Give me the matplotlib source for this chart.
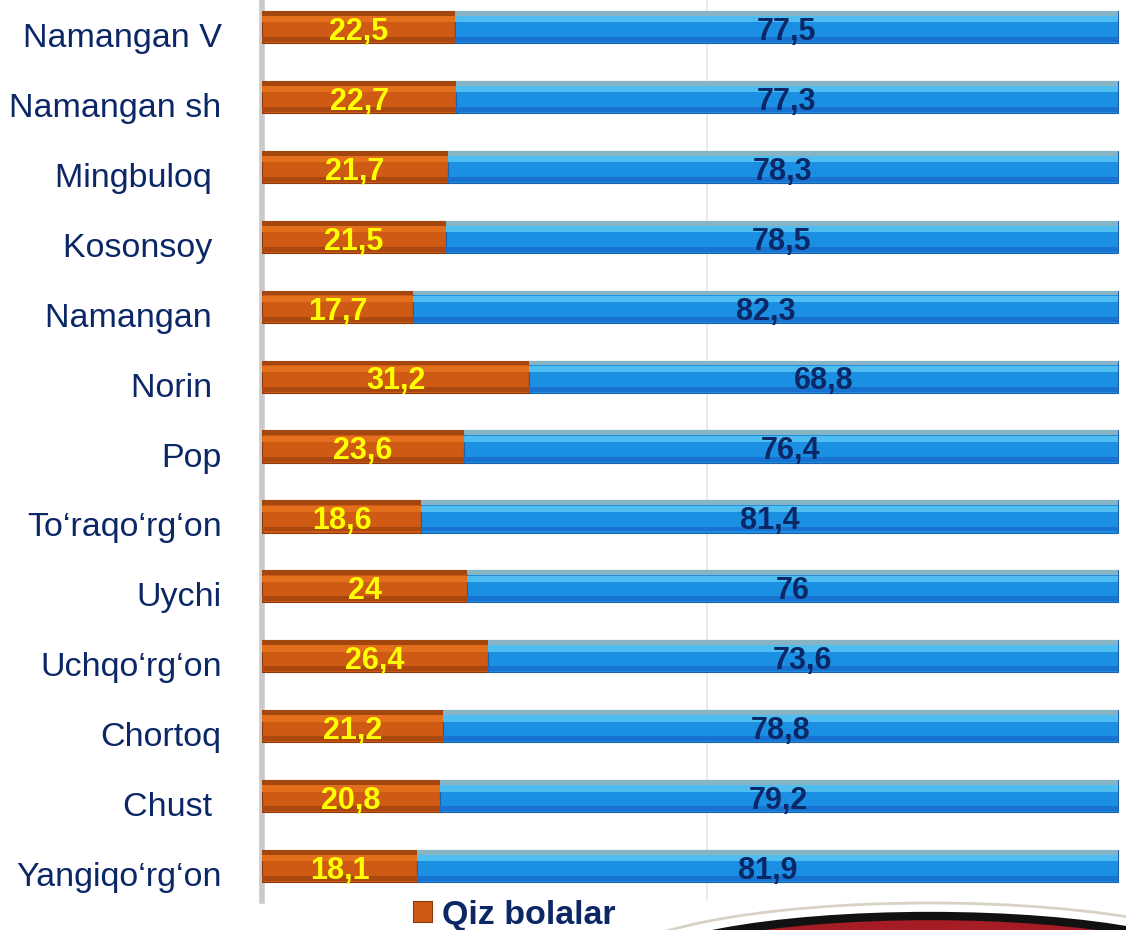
import matplotlib.pyplot as plt
import matplotlib.transforms as mtransforms
from matplotlib.patches import Ellipse

plt.rcParams['font.family'] = ['Liberation Sans', 'DejaVu Sans']

# districts, top to bottom
districts = ['Namangan V', 'Namangan sh', 'Mingbuloq ', 'Kosonsoy ', 'Namangan ',
             'Norin ', 'Pop', 'To\u2018raqo\u2018rg\u2018on', 'Uychi', 'Uchqo\u2018rg\u2018on',
             'Chortoq', 'Chust ', 'Yangiqo\u2018rg\u2018on']
girls = [22.5, 22.7, 21.7, 21.5, 17.7, 31.2, 23.6, 18.6, 24, 26.4, 21.2, 20.8, 18.1]
boys = [77.5, 77.3, 78.3, 78.5, 82.3, 68.8, 76.4, 81.4, 76, 73.6, 78.8, 79.2, 81.9]
girls_label = 'Qiz bolalar'


def fmt(v):
    s = ('%g' % v).replace('.', ',')
    return s


navy = '#0B2766'
orange = '#CE5A14'
blue = '#1B8FE2'

fig = plt.figure(figsize=(11.26, 9.3), dpi=100)
ax = fig.add_axes([0.2327, 0.0312, 0.7637, 0.9688])

y = list(range(len(districts)))
h = 0.46

b1 = ax.barh(y, girls, height=h, color=orange, edgecolor='#8A3A0C', linewidth=0.8, label=girls_label, zorder=3)
ax.barh(y, boys, left=girls, height=h, color=blue, edgecolor='#1E5FA8', linewidth=0.8, zorder=3)

# glossy bands (3d look)
top_y = [v - h / 2 + 0.035 for v in y]
ax.barh(top_y, girls, height=0.07, color='#A4470F', linewidth=0, zorder=4)
ax.barh(top_y, boys, left=girls, height=0.07, color='#86B4C4', linewidth=0, zorder=4)
hl_y = [v - h / 2 + 0.12 for v in y]
ax.barh(hl_y, girls, height=0.09, color='#E36E1C', linewidth=0, zorder=4)
ax.barh(hl_y, boys, left=girls, height=0.09, color='#4FBDF0', linewidth=0, zorder=4)
lo_y = [v + h / 2 - 0.05 for v in y]
ax.barh(lo_y, girls, height=0.07, color='#AB4810', linewidth=0, zorder=4)
ax.barh(lo_y, boys, left=girls, height=0.07, color='#1772D2', linewidth=0, zorder=4)

for i in range(len(districts)):
    ax.text(girls[i] / 2, i + 0.07, fmt(girls[i]), ha='center', va='center',
            color='#FFFF00', fontsize=22, fontweight='bold', zorder=5)
    ax.text(girls[i] + boys[i] / 2, i + 0.07, fmt(boys[i]), ha='center', va='center',
            color=navy, fontsize=22, fontweight='bold', zorder=5)

ax.axvline(52, color='#E6E6E6', linewidth=1.2, zorder=0)

ax.set_xlim(0, 100.5)
ax.set_ylim(12.5, -0.386)
ax.set_yticks(y)
ax.set_yticklabels(districts, fontsize=24.5, color=navy)
ax.tick_params(axis='y', length=0, pad=29)
shift = mtransforms.ScaledTranslation(0, -0.08, fig.dpi_scale_trans)
for lbl in ax.get_yticklabels():
    lbl.set_transform(lbl.get_transform() + shift)
ax.set_xticks([])
for s in ['top', 'right', 'bottom']:
    ax.spines[s].set_visible(False)
ax.spines['left'].set_color('#C9C9C9')
ax.spines['left'].set_linewidth(4)

leg = fig.legend(handles=[b1], labels=[girls_label], loc='center left',
                 bbox_to_anchor=(0.367, 0.016), frameon=False, handlelength=0.55,
                 handleheight=0.55, handletextpad=0.3, borderpad=0, borderaxespad=0,
                 prop={'size': 24.5, 'weight': 'bold'})
for t in leg.get_texts():
    t.set_color(navy)

# decorative swoosh at bottom right
fig.patches.append(Ellipse((930 / 1126, -38 / 930), 640 / 1126, 130 / 930,
                           transform=fig.transFigure, facecolor='none',
                           edgecolor='#D8D2C4', linewidth=2, zorder=1))
fig.patches.append(Ellipse((930 / 1126, -42 / 930), 590 / 1126, 112 / 930,
                           transform=fig.transFigure, facecolor='#A51C24',
                           edgecolor='#111111', linewidth=6, zorder=1))

fig.savefig('out.png', dpi=100)
